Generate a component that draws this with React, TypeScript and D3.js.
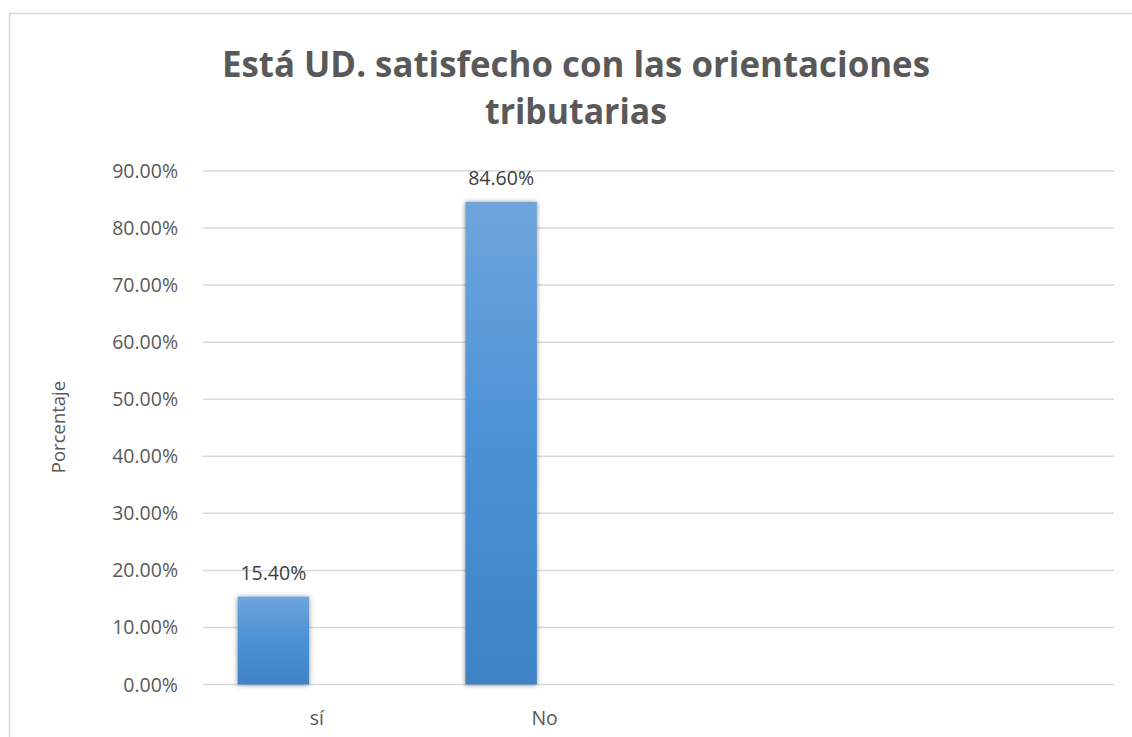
import React from "react";
import * as d3 from "d3";

const title = ["Está UD. satisfecho con las orientaciones", "tributarias"];
const categories = ["sí", "No", "", ""];
const values: (number | null)[] = [15.4, 84.6, null, null];
const yTicks = [0, 10, 20, 30, 40, 50, 60, 70, 80, 90];
const yAxisTitle = "Porcentaje";

const W = 1132;
const H = 737;
const plot = { left: 203, right: 1114, top: 171, bottom: 684.5 };
const textColor = "#595959";
const font = "'Open Sans', 'Liberation Sans', sans-serif";

export default function App() {
  const x = d3
    .scaleBand<number>()
    .domain(d3.range(categories.length))
    .range([plot.left, plot.right])
    .padding(0);
  const y = d3.scaleLinear().domain([0, 90]).range([plot.bottom, plot.top]);
  const bw = x.bandwidth();
  const barOffset = bw * 0.152;
  const barW = bw * 0.314;
  const fmt = (v: number) => d3.format(".2f")(v) + "%";

  return (
    <div style={{ position: "absolute", left: 0, top: 0 }}>
      <svg width={W} height={H} style={{ display: "block", background: "#fff" }}>
        <defs>
          <linearGradient id="barGrad" x1="0" y1="0" x2="0" y2="1">
            <stop offset="0" stopColor="#6fa5db" />
            <stop offset="0.5" stopColor="#4b91d6" />
            <stop offset="1" stopColor="#3f83c5" />
          </linearGradient>
          <filter id="barShadow" x="-20%" y="-10%" width="140%" height="120%">
            <feDropShadow dx="0" dy="0.5" stdDeviation="2.6" floodColor="#000" floodOpacity="0.45" />
          </filter>
        </defs>
        <rect x={9.5} y={13.5} width={W} height={H} fill="#fff" stroke="#d9d9d9" strokeWidth={1.5} />

        {/* title */}
        <text
          x={576}
          y={77}
          textAnchor="middle"
          fontFamily={font}
          fontWeight="bold"
          fontSize={35}
          fill={textColor}
          textLength={708}
          lengthAdjust="spacingAndGlyphs"
        >
          {title[0]}
        </text>
        <text
          x={576}
          y={124}
          textAnchor="middle"
          fontFamily={font}
          fontWeight="bold"
          fontSize={35}
          fill={textColor}
          textLength={182}
          lengthAdjust="spacingAndGlyphs"
        >
          {title[1]}
        </text>

        {/* gridlines */}
        {yTicks.map((t) => (
          <line
            key={"g" + t}
            x1={plot.left}
            x2={plot.right}
            y1={y(t)}
            y2={y(t)}
            stroke="#d9d9d9"
            strokeWidth={1.5}
          />
        ))}

        {/* y tick labels */}
        {yTicks.map((t) => (
          <text
            key={"t" + t}
            x={178}
            y={y(t)}
            dy="0.36em"
            textAnchor="end"
            fontFamily={font}
            fontSize={19.5}
            fill={textColor}
          >
            {fmt(t)}
          </text>
        ))}

        {/* y axis title */}
        <text
          transform={`translate(65,427) rotate(-90)`}
          textAnchor="middle"
          fontFamily={font}
          fontSize={18.5}
          fill={textColor}
        >
          {yAxisTitle}
        </text>

        {/* bars */}
        {values.map((v, i) =>
          v == null ? null : (
            <g key={"b" + i}>
              <rect
                x={(x(i) as number) + barOffset}
                y={y(v)}
                width={barW}
                height={y(0) - y(v)}
                fill="url(#barGrad)"
                filter="url(#barShadow)"
              />
              <text
                x={(x(i) as number) + barOffset + barW / 2}
                y={y(v) - 17}
                textAnchor="middle"
                fontFamily={font}
                fontSize={19.5}
                fill="#404040"
              >
                {fmt(v)}
              </text>
            </g>
          )
        )}

        {/* category labels */}
        {categories.map((c, i) => (
          <text
            key={"c" + i}
            x={(x(i) as number) + bw / 2}
            y={725}
            textAnchor="middle"
            fontFamily={font}
            fontSize={19.5}
            fill={textColor}
          >
            {c}
          </text>
        ))}
      </svg>
    </div>
  );
}
